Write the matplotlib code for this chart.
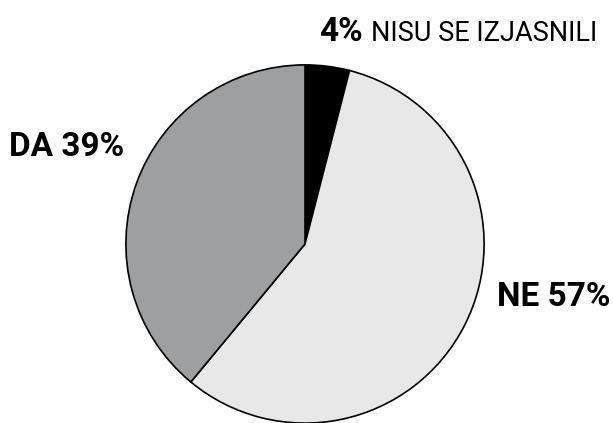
import matplotlib.pyplot as plt

labels = ["NISU SE IZJASNILI", "NE", "DA"]
shares = [4, 57, 39]
colors = ["#000000", "#e7e8e7", "#9e9fa1"]

plt.rcParams["font.family"] = ["Roboto", "DejaVu Sans"]

fig = plt.figure(figsize=(6.13, 4.23), dpi=100)
ax = fig.add_axes([125 / 613, -1 / 423, 360 / 613, 360 / 423])
ax.pie(shares, colors=colors, startangle=90, counterclock=False,
       wedgeprops=dict(edgecolor="black", linewidth=1.2))
ax.set_xlim(-1.005, 1.005)
ax.set_ylim(-1.005, 1.005)
ax.set_aspect("equal")

fig.text(363 / 613, 1 - 41 / 423, f"{shares[0]}%", fontsize=24, fontweight="bold",
         ha="right", va="baseline")
fig.text(597 / 613, 1 - 41 / 423, labels[0], fontsize=19.5, fontweight="normal",
         ha="right", va="baseline")
fig.text(9 / 613, 1 - 156 / 423, f"{labels[2]} {shares[2]}%", fontsize=24,
         fontweight="bold", ha="left", va="baseline")
fig.text(497 / 613, 1 - 306 / 423, f"{labels[1]} {shares[1]}%", fontsize=24,
         fontweight="bold", ha="left", va="baseline")

fig.savefig("out.png", dpi=100)
